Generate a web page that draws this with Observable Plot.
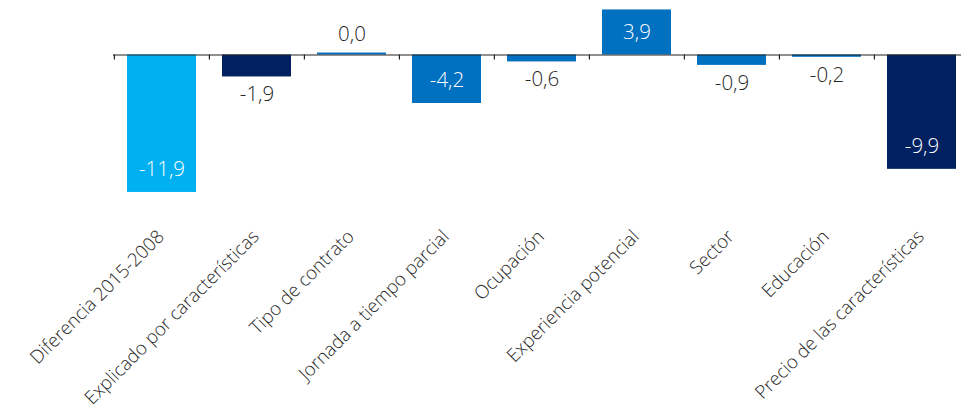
<!DOCTYPE html>
<html>
<head>
<meta charset="utf-8">
<script src="https://cdn.jsdelivr.net/npm/d3@7"></script>
<script src="https://cdn.jsdelivr.net/npm/@observablehq/plot@0.6"></script>
<style>
  html, body { margin: 0; padding: 0; background: #fff; }
  #chart svg { display: block; }
</style>
</head>
<body>
<div id="chart"></div>
<script>
// Data
const categories = [
  "Diferencia 2015-2008",
  "Explicado por características",
  "Tipo de contrato",
  "Jornada a tiempo parcial",
  "Ocupación",
  "Experiencia potencial",
  "Sector",
  "Educación",
  "Precio de las características"
];
const values = [-11.9, -1.9, 0.0, -4.2, -0.6, 3.9, -0.9, -0.2, -9.9];

// Styles
const barColors = ["#00B0F0", "#002060", "#0070C0", "#0070C0", "#0070C0", "#0070C0", "#0070C0", "#0070C0", "#002060"];
const font = "'Open Sans', 'Segoe UI', sans-serif";

const data = categories.map((c, i) => ({cat: c, value: values[i], color: barColors[i]}));
const fmt = v => v.toFixed(1).replace(".", ",");
const inside = d => Math.abs(d.value) >= 3;

const W = 961, H = 415;
const xRange = [113.5, 970.3];
const step = (xRange[1] - xRange[0]) / categories.length;
const labelSize = 20.5, labelWeight = 350;

const chart = Plot.plot({
  width: W,
  height: H,
  marginLeft: 113,
  marginRight: 0,
  marginTop: 0,
  marginBottom: 177,
  style: {fontFamily: font, background: "#fff"},
  x: {domain: categories, range: xRange, paddingInner: 0.275, paddingOuter: 0.1375, axis: null},
  y: {domain: [-12, 4.7], range: [193.1, 0.2], axis: null},
  marks: [
    Plot.barY(data, {x: "cat", y: "value", fill: "color"}),
    Plot.ruleY(data.filter(d => d.value === 0), {x1: "cat", x2: "cat", y: "value", stroke: "color", strokeWidth: 2, dy: -1.5}),
    Plot.ruleY([0], {stroke: "#222", strokeWidth: 1.2}),
    Plot.ruleX(categories, {x: d => d, y1: 0, y2: 0, insetBottom: -5, dx: -step / 2, stroke: "#222", strokeWidth: 1.2}),
    // inside labels
    Plot.text(data.filter(d => inside(d) && d.value < 0), {x: "cat", y: "value", text: d => fmt(d.value), fill: "#fff", dy: -23, fontSize: labelSize, fontWeight: labelWeight, lineAnchor: "middle"}),
    Plot.text(data.filter(d => inside(d) && d.value > 0), {x: "cat", y: "value", text: d => fmt(d.value), fill: "#fff", dy: 22, fontSize: labelSize, fontWeight: labelWeight, lineAnchor: "middle"}),
    // outside labels
    Plot.text(data.filter(d => !inside(d) && d.value < 0), {x: "cat", y: "value", text: d => fmt(d.value), fill: "#262626", dy: 18, fontSize: labelSize, fontWeight: labelWeight, lineAnchor: "middle"}),
    Plot.text(data.filter(d => !inside(d) && d.value >= 0), {x: "cat", y: "value", text: d => fmt(d.value), fill: "#262626", dy: -21, fontSize: labelSize, fontWeight: labelWeight, lineAnchor: "middle"}),
    Plot.axisX({tickRotate: -45, tickSize: 0, tickPadding: 0, fontSize: 18.6, fontWeight: labelWeight, fill: "#262626", dx: -1, dy: -5, label: null})
  ]
});
document.getElementById("chart").appendChild(chart);
</script>
</body>
</html>
